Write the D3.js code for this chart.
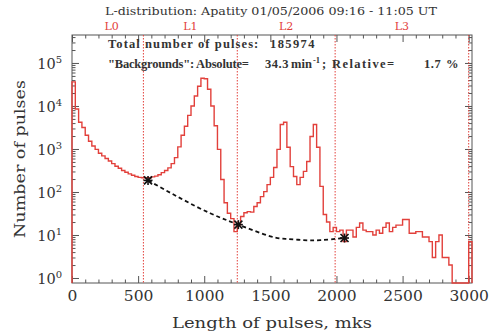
<!DOCTYPE html>
<html><head><meta charset="utf-8">
<script src="https://cdn.jsdelivr.net/npm/d3@7"></script>
<style>html,body{margin:0;padding:0;background:#fff;}svg{display:block;}</style>
</head><body>
<svg id="chart" width="490" height="332"></svg>
<script>
// ---- data ----
const binWidth = 25; // mks
const counts = [36300,8510,4170,3160,2090,1510,1175,977,794,692,603,525,457,398,355,316,288,263,245,229,219,214,214,214,224,234,251,282,316,363,457,631,1122,2090,3390,6030,10000,17000,28800,44000,43000,24500,10000,3470,977,195,56,32,24,12,17,27,33,35,34,46,56,78,102,148,219,372,977,3720,4170,1096,389,229,148,219,302,513,1950,3720,1096,135,30,20,12,15,12,13,7,13,13,9,15,19,13,12,12,10,13,11,15,19,12,15,17,17,23,23,11,11,12,12,9,9,7,3,7,10,3,3,2,0,0,0,0,0,7];
const lBoundaries = [540, 1250, 1990, 3000];
const lNames = ["L0", "L1", "L2", "L3"];
const lLabelX = [300, 895, 1620, 2495];
const bgPoints = [[575,186],[818,72],[1045,32],[1258,17.4],[1500,9.3],[1629,8.1],[1750,7.6],[1879,7.6],[2061,8.5]];
const bgMarkers = [[575,186],[1258,17.4],[2061,8.5]];
const xMajorTicks = [0,500,1000,1500,2000,2500,3000];
const yMajorTicks = [1,10,100,1000,10000,100000];
const titleText = "L-distribution: Apatity 01/05/2006 09:16 - 11:05 UT";
const totalPulses = "185974";
const bgAbsolute = "34.3";
const bgRelative = "1.7";

// ---- scales ----
const svg = d3.select("#chart");
const L = 72, R = 472, T = 35, B = 283;
const x = d3.scaleLinear().domain([0, 3025]).range([L, R]);
const y = d3.scaleLog().domain([0.765, 4.47e5]).range([B, T]).clamp(true);
const serif = "'DejaVu Serif', serif";
const narrowSerif = "'Liberation Serif', serif";
const axisCol = "#555";
const red = "#e2403b";

svg.append("rect").attr("width", 490).attr("height", 332).attr("fill", "#fff");

// minor ticks
const xMinor = d3.range(0, 3001, 100).filter(v => v % 500 !== 0);
const yMinor = [];
for (let e = 0; e < 6; e++) for (let k = 2; k <= 9; k++) { const v = k * Math.pow(10, e); if (v < 4.47e5) yMinor.push(v); }

function styleAxis(g) {
  g.select(".domain").remove();
  g.selectAll("line").attr("stroke", axisCol).attr("stroke-width", 1);
}
// bottom
svg.append("g").attr("transform", `translate(0,${B})`)
  .call(d3.axisBottom(x).tickValues(xMajorTicks).tickSize(-7).tickPadding(13).tickFormat(d3.format("d")))
  .call(styleAxis)
  .call(g => g.selectAll("text").attr("font-family", serif).attr("font-size", "15.5px").attr("fill", "#333").attr("dy", "0.3em"));
svg.append("g").attr("transform", `translate(0,${B})`)
  .call(d3.axisBottom(x).tickValues(xMinor).tickSize(-3.5).tickFormat(""))
  .call(styleAxis);
// top
svg.append("g").attr("transform", `translate(0,${T})`)
  .call(d3.axisTop(x).tickValues(xMajorTicks).tickSize(-7).tickFormat(""))
  .call(styleAxis);
svg.append("g").attr("transform", `translate(0,${T})`)
  .call(d3.axisTop(x).tickValues(xMinor).tickSize(-3.5).tickFormat(""))
  .call(styleAxis);
// left
svg.append("g").attr("transform", `translate(${L},0)`)
  .call(d3.axisLeft(y).tickValues(yMajorTicks).tickSize(-7).tickPadding(10))
  .call(styleAxis)
  .call(g => g.selectAll("text").each(function(d) {
    const t = d3.select(this);
    t.text("").attr("font-family", serif).attr("font-size", "14.5px").attr("fill", "#333").attr("dy", "0.36em");
    t.append("tspan").text("10");
    t.append("tspan").attr("dy", "-0.55em").attr("font-size", "10px").text(Math.round(Math.log10(d)));
  }));
svg.append("g").attr("transform", `translate(${L},0)`)
  .call(d3.axisLeft(y).tickValues(yMinor).tickSize(-3.5).tickFormat(""))
  .call(styleAxis);
// right
svg.append("g").attr("transform", `translate(${R},0)`)
  .call(d3.axisRight(y).tickValues(yMajorTicks).tickSize(-7).tickFormat(""))
  .call(styleAxis);
svg.append("g").attr("transform", `translate(${R},0)`)
  .call(d3.axisRight(y).tickValues(yMinor).tickSize(-3.5).tickFormat(""))
  .call(styleAxis);

// frame
svg.append("rect").attr("x", L).attr("y", T).attr("width", R - L).attr("height", B - T)
  .attr("fill", "none").attr("stroke", axisCol).attr("stroke-width", 1);

// L boundaries
svg.append("g").selectAll("line").data(lBoundaries).join("line")
  .attr("x1", d => x(d)).attr("x2", d => x(d)).attr("y1", T).attr("y2", B)
  .attr("stroke", red).attr("stroke-width", 1).attr("stroke-dasharray", "1.5,1.5");
svg.append("g").selectAll("text").data(lNames).join("text")
  .attr("x", (d, i) => x(lLabelX[i])).attr("y", 30).attr("text-anchor", "middle")
  .attr("font-family", serif).attr("font-size", "11px").attr("fill", red).text(d => d);

// histogram
const yFloor = y.domain()[0];
const pts = [[0, yFloor]];
counts.forEach((c, i) => { const v = c > 0 ? c : yFloor; pts.push([i * binWidth, v]); pts.push([(i + 1) * binWidth, v]); });
pts.push([counts.length * binWidth, yFloor]);
svg.append("path").datum(pts)
  .attr("d", d3.line().x(d => x(d[0])).y(d => y(d[1])))
  .attr("fill", "none").attr("stroke", red).attr("stroke-width", 1.4).attr("stroke-linejoin", "miter");

// background curve
svg.append("path").datum(bgPoints)
  .attr("d", d3.line().x(d => x(d[0])).y(d => y(d[1])).curve(d3.curveNatural))
  .attr("fill", "none").attr("stroke", "#111").attr("stroke-width", 1.8).attr("stroke-dasharray", "4,3");
const mk = svg.append("g").selectAll("g").data(bgMarkers).join("g")
  .attr("transform", d => `translate(${x(d[0])},${y(d[1])})`);
[[-4,-4,4,4],[-4,4,4,-4],[-4.5,0,4.5,0],[0,-4.5,0,4.5]].forEach(s => {
  mk.append("line").attr("x1", s[0]).attr("y1", s[1]).attr("x2", s[2]).attr("y2", s[3])
    .attr("stroke", "#111").attr("stroke-width", 1.6);
});

// texts
svg.append("text").attr("x", 271).attr("y", 15).attr("text-anchor", "middle")
  .attr("font-family", serif).attr("font-size", "11.5px").attr("fill", "#333")
  .attr("textLength", 332).attr("lengthAdjust", "spacingAndGlyphs").text(titleText);
svg.append("text").attr("x", 272).attr("y", 328).attr("text-anchor", "middle")
  .attr("font-family", serif).attr("font-size", "15px").attr("fill", "#333")
  .attr("textLength", 200).attr("lengthAdjust", "spacingAndGlyphs").text("Length of pulses, mks");
svg.append("text").attr("transform", "translate(25,159) rotate(-90)").attr("text-anchor", "middle")
  .attr("font-family", serif).attr("font-size", "15px").attr("fill", "#333")
  .attr("textLength", 158).attr("lengthAdjust", "spacingAndGlyphs").text("Number of pulses");

const inner = svg.append("g").attr("font-family", narrowSerif).attr("font-size", "12.5px").attr("font-weight", "bold").attr("fill", "#333");
inner.append("text").attr("x", 108).attr("y", 48).attr("letter-spacing", "1.1px").text("Total number of pulses:");
inner.append("text").attr("x", 270).attr("y", 48).attr("letter-spacing", "1.4px").text(totalPulses);
inner.append("text").attr("x", 108).attr("y", 68).attr("letter-spacing", "-0.2px").text("\"Backgrounds\": Absolute=");
inner.append("text").attr("x", 265).attr("y", 68).attr("letter-spacing", "0.5px").text(bgAbsolute);
inner.append("text").attr("x", 291).attr("y", 68).text("min");
inner.append("text").attr("x", 313).attr("y", 63).attr("font-size", "8.5px").text("-1");
inner.append("text").attr("x", 322).attr("y", 68).attr("letter-spacing", "1.4px").text("; Relative=");
inner.append("text").attr("x", 424).attr("y", 68).attr("letter-spacing", "0.5px").text(bgRelative);
inner.append("text").attr("x", 446).attr("y", 68).text("%");
</script>
</body></html>
